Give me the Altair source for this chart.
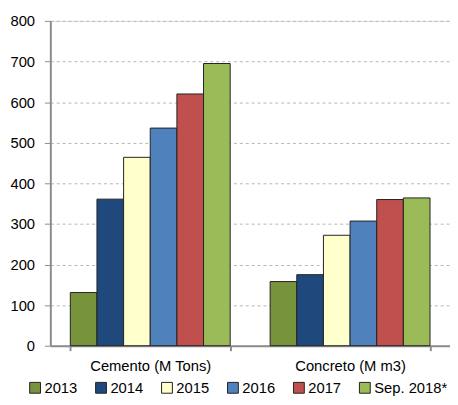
import altair as alt
import pandas as pd

categories = ["Cemento (M Tons)", "Concreto (M m3)"]
years = ["2013", "2014", "2015", "2016", "2017", "Sep. 2018*"]
cemento = [131, 361, 464, 536, 620, 695]
concreto = [158, 175, 272, 307, 360, 364]
colors = ["#77933C", "#1F497D", "#FFFFCC", "#4F81BD", "#C0504D", "#9BBB59"]

rows = []
for cat, vals in zip(categories, [cemento, concreto]):
    for y, v in zip(years, vals):
        rows.append({"cat": cat, "year": y, "value": v})
df = pd.DataFrame(rows)

FONT = "Liberation Sans"

chart = alt.Chart(df).mark_bar(stroke="#222222", strokeWidth=1).encode(
    x=alt.X("cat:N", sort=categories, title=None,
            scale=alt.Scale(paddingInner=0.2, paddingOuter=0.1),
            axis=alt.Axis(labelAngle=0, labelFontSize=15, labelFont=FONT, labelColor="#000",
                          domainColor="#8c8c8c", domainWidth=2, tickColor="#8c8c8c",
                          tickSize=5, tickWidth=2, tickBand="extent", labelPadding=8, grid=False)),
    xOffset=alt.XOffset("year:N", sort=years),
    y=alt.Y("value:Q", title=None,
            scale=alt.Scale(domain=[0, 800], nice=False),
            axis=alt.Axis(values=[0, 100, 200, 300, 400, 500, 600, 700, 800],
                          labelFontSize=15, labelFont=FONT, labelColor="#000",
                          domainColor="#8c8c8c", domainWidth=2, tickColor="#8c8c8c",
                          tickSize=6, tickWidth=1, labelPadding=10,
                          grid=True, gridColor="#b5b5b5", gridDash=[3, 3], gridWidth=1)),
    color=alt.Color("year:N", sort=years, scale=alt.Scale(domain=years, range=colors),
                    legend=alt.Legend(title=None, orient="none", direction="horizontal",
                                      legendX=-23, legendY=365, symbolType="square",
                                      symbolSize=121, symbolStrokeColor="#222222",
                                      symbolStrokeWidth=1, labelFontSize=15, labelFont=FONT,
                                      labelColor="#000", labelOffset=2, columnPadding=16,
                                      padding=0)),
).properties(
    width=406, height=330,
    autosize=alt.AutoSizeParams(type="none"),
    padding={"left": 43, "top": 10, "right": 0, "bottom": 49},
).configure_view(stroke=None).configure(background="white")

chart.save("out.html", embed_options={"renderer": "svg", "actions": False})
